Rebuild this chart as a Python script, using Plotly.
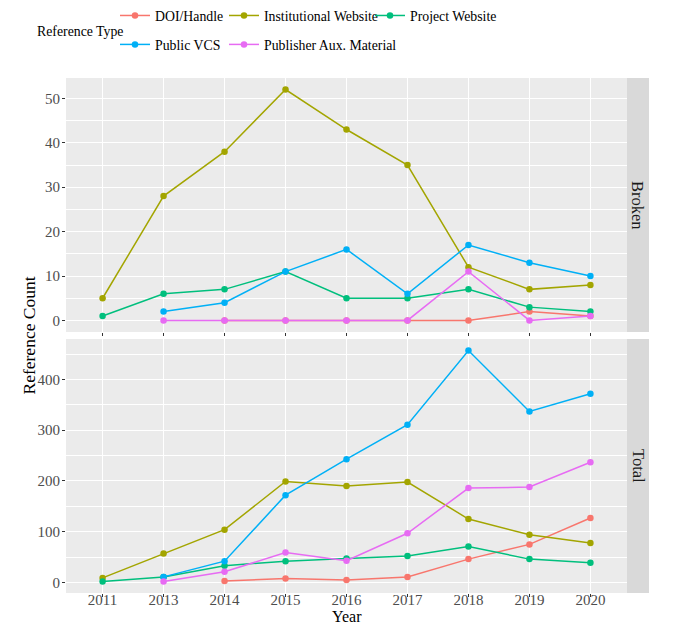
import plotly.graph_objects as go

years = ["2011", "2013", "2014", "2015", "2016", "2017", "2018", "2019", "2020"]
types = ["DOI/Handle", "Institutional Website", "Project Website", "Public VCS", "Publisher Aux. Material"]
colors = ["#F8766D", "#A3A500", "#00BF7D", "#00B0F6", "#E76BF3"]

broken_doi = [None, None, 0, 0, 0, 0, 0, 2, 1]
broken_inst = [5, 28, 38, 52, 43, 35, 12, 7, 8]
broken_proj = [1, 6, 7, 11, 5, 5, 7, 3, 2]
broken_vcs = [None, 2, 4, 11, 16, 6, 17, 13, 10]
broken_pub = [None, 0, 0, 0, 0, 0, 11, 0, 1]

total_doi = [None, None, 3, 8, 5, 11, 46, 75, 127]
total_inst = [9, 57, 104, 199, 190, 198, 125, 94, 78]
total_proj = [2, 11, 33, 42, 47, 52, 71, 46, 39]
total_vcs = [None, 11, 42, 172, 243, 311, 457, 337, 372]
total_pub = [None, 2, 21, 59, 43, 97, 186, 188, 237]

broken = [broken_doi, broken_inst, broken_proj, broken_vcs, broken_pub]
total = [total_doi, total_inst, total_proj, total_vcs, total_pub]
legend_ids = ["legend", "legend2", "legend3", "legend", "legend2"]

FONT = "Liberation Serif"
OFF = 8  # page body margin
W, H = 683 - OFF, 624 - OFF
# target page pixel positions of the panel block
P_LEFT, P_RIGHT, P_TOP, P_BOTTOM = 66, 627, 78, 593
ML = P_LEFT - OFF
MR = W - (P_RIGHT - OFF)
MT = P_TOP - OFF
MB = H - (P_BOTTOM - OFF)
PW = W - ML - MR
PH = H - MT - MB


def px_x(px):
    return (px - OFF - ML) / PW


def px_y(py):
    return (H - MB - (py - OFF)) / PH


fig = go.Figure()
for i, name in enumerate(types):
    fig.add_trace(go.Scatter(
        x=years, y=broken[i], name=name, mode="lines+markers",
        line=dict(color=colors[i], width=1.5), marker=dict(color=colors[i], size=6.5),
        xaxis="x", yaxis="y", legend=legend_ids[i], legendgroup=name, showlegend=True))
for i, name in enumerate(types):
    fig.add_trace(go.Scatter(
        x=years, y=total[i], name=name, mode="lines+markers",
        line=dict(color=colors[i], width=1.5), marker=dict(color=colors[i], size=6.5),
        xaxis="x2", yaxis="y2", legend=legend_ids[i], legendgroup=name, showlegend=False))

top_lo = px_y(332)
bot_hi = px_y(339)

axis_common = dict(
    showgrid=True, gridcolor="white", gridwidth=1.1, zeroline=False,
    ticks="outside", ticklen=3, tickcolor="#333333", tickwidth=1,
    tickfont=dict(family=FONT, size=15, color="#4D4D4D"), showline=False,
)

fig.update_layout(
    width=W, height=H,
    margin=dict(l=ML, r=MR, t=MT, b=MB, autoexpand=False),
    paper_bgcolor="white", plot_bgcolor="#EBEBEB",
    font=dict(family=FONT, color="black"),
    xaxis=dict(domain=[0, 1], anchor="y", type="category", categoryorder="array",
               categoryarray=years, range=[-0.6, 8.6], showticklabels=False,
               **axis_common),
    xaxis2=dict(domain=[0, 1], anchor="y2", type="category", categoryorder="array",
                categoryarray=years, range=[-0.6, 8.6], matches="x",
                ticklabelstandoff=-10, **axis_common),
    yaxis=dict(domain=[top_lo, 1], anchor="x", range=[-2.6, 54.6],
               tickvals=[0, 10, 20, 30, 40, 50], ticklabelstandoff=-1,
               minor=dict(tickvals=[5, 15, 25, 35, 45], showgrid=True, gridcolor="white",
                          gridwidth=0.5, ticks=""),
               **axis_common),
    yaxis2=dict(domain=[0, bot_hi], anchor="x2", range=[-20.75, 479.75],
                tickvals=[0, 100, 200, 300, 400], ticklabelstandoff=-1,
                minor=dict(tickvals=[50, 150, 250, 350, 450], showgrid=True, gridcolor="white",
                           gridwidth=0.5, ticks=""),
                **axis_common),
)

leg_common = dict(orientation="v", xref="container", yref="paper", yanchor="top",
                  xanchor="left", font=dict(family=FONT, size=13.8, color="black"),
                  bgcolor="rgba(0,0,0,0)", borderwidth=0, tracegroupgap=8, itemwidth=30)
leg_y = px_y(0)
fig.update_layout(
    legend=dict(x=(115 - OFF) / W, y=leg_y, **leg_common),
    legend2=dict(x=(224 - OFF) / W, y=leg_y, **leg_common),
    legend3=dict(x=(370 - OFF) / W, y=leg_y, **leg_common),
)

# strips
strip_w = 22 / PW
for (y0, y1, label) in [(top_lo, 1, "Broken"), (0, bot_hi, "Total")]:
    fig.add_shape(type="rect", xref="paper", yref="paper", x0=1, x1=1 + strip_w,
                  y0=y0, y1=y1, fillcolor="#D9D9D9", line=dict(width=0), layer="below")
    fig.add_annotation(xref="paper", yref="paper", x=1 + strip_w / 2, y=(y0 + y1) / 2,
                       xanchor="center", yanchor="middle",
                       text=label, textangle=90, showarrow=False,
                       font=dict(family=FONT, size=16.5, color="#1A1A1A"))

# axis titles
fig.add_annotation(xref="paper", yref="paper", x=0.5, y=px_y(616),
                   text="Year", showarrow=False, xanchor="center", yanchor="middle",
                   font=dict(family=FONT, size=16, color="black"))
fig.add_annotation(xref="paper", yref="paper", x=px_x(28), y=(px_y(593) + px_y(78)) / 2,
                   xanchor="center", yanchor="middle",
                   text="Reference Count", textangle=-90, showarrow=False,
                   font=dict(family=FONT, size=17.5, color="black"))
fig.add_annotation(xref="paper", yref="paper", x=px_x(126), y=px_y(32),
                   xanchor="right", yanchor="middle",
                   text="Reference Type", showarrow=False,
                   font=dict(family=FONT, size=13.8, color="black"))

fig.write_html("out.html")
